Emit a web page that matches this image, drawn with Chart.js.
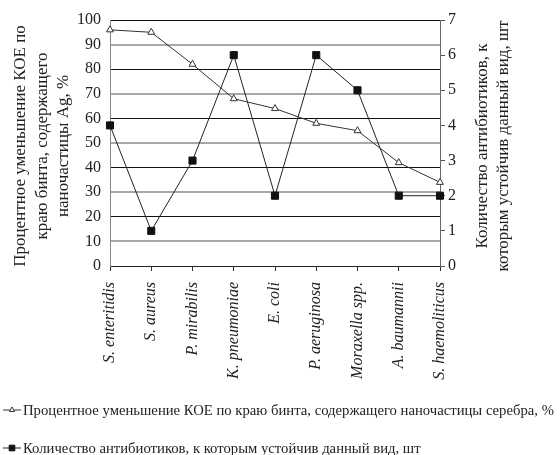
<!DOCTYPE html>
<html>
<head>
<meta charset="utf-8">
<script src="https://cdn.jsdelivr.net/npm/chart.js@4/dist/chart.umd.min.js"></script>
<style>
  body { margin: 0; background: #fff; }
  #wrap { width: 560px; height: 455px; }
</style>
</head>
<body>
<div id="wrap"><canvas id="chart"></canvas></div>
<script>
const species = ['S. enteritidis', 'S. aureus', 'P. mirabilis', 'K. pneumoniae', 'E. coli',
    'P. aeruginosa', 'Moraxella spp.', 'A. baumannii', 'S. haemoliticus'];
const cfuDrop = [96, 95, 82, 68, 64, 58, 55, 42, 34];
const resistCount = [4, 1, 3, 6, 2, 6, 5, 2, 2];
const leftTicks = [0, 10, 20, 30, 40, 50, 60, 70, 80, 90, 100];
const rightTicks = [0, 1, 2, 3, 4, 5, 6, 7];

const cfuLabel = 'Процентное уменьшение КОЕ по краю бинта, содержащего наночастицы серебра, %';
const countLabel = 'Количество антибиотиков, к которым устойчив данный вид, шт';
const leftTitle = ['Процентное уменьшение КОЕ по', 'краю бинта, содержащего', 'наночастицы Ag, %'];
const rightTitle = ['Количество антибиотиков, к', 'которым устойчив данный вид, шт'];

const FONT = '"Liberation Serif", "Times New Roman", serif';

// axis titles read bottom-to-top on both sides, so draw them by hand
const titlesPlugin = {
    id: 'titles',
    afterDraw(chart) {
        const ctx = chart.ctx;
        const midY = 146;
        ctx.save();
        ctx.fillStyle = '#222';
        ctx.font = '17px ' + FONT;
        ctx.textAlign = 'center';
        ctx.textBaseline = 'middle';
        const draw = (lines, xs) => {
            lines.forEach((t, i) => {
                ctx.save();
                ctx.translate(xs[i], midY);
                ctx.rotate(-Math.PI / 2);
                ctx.fillText(t, 0, 0);
                ctx.restore();
            });
        };
        draw(leftTitle, [21, 43, 64]);
        draw(rightTitle, [483, 504]);
        ctx.restore();
    }
};

// legend rows with a line + marker, left aligned
const legendPlugin = {
    id: 'rowLegend',
    afterDraw(chart) {
        const ctx = chart.ctx;
        const rows = [410, 448];
        ctx.save();
        ctx.font = '14.7px ' + FONT;
        ctx.textBaseline = 'middle';
        chart.data.datasets.forEach((ds, i) => {
            const y = rows[i];
            ctx.strokeStyle = ds.borderColor;
            ctx.lineWidth = 1;
            ctx.beginPath();
            ctx.moveTo(3, y);
            ctx.lineTo(21, y);
            ctx.stroke();
            ctx.fillStyle = ds.pointBackgroundColor;
            ctx.strokeStyle = ds.pointBorderColor;
            Chart.helpers.drawPoint(ctx, {pointStyle: ds.pointStyle, radius: ds.pointRadius - 1, borderWidth: 1}, 12, y);
            ctx.fillStyle = '#222';
            ctx.fillText(ds.label, 23, y + 1);
        });
        ctx.restore();
    }
};

new Chart(document.getElementById('chart'), {
    type: 'line',
    data: {
        labels: species,
        datasets: [{
            label: cfuLabel,
            data: cfuDrop,
            yAxisID: 'y',
            borderColor: '#333',
            borderWidth: 1,
            pointStyle: 'triangle',
            pointRadius: 4,
            pointBackgroundColor: '#fff',
            pointBorderColor: '#333',
            pointBorderWidth: 1,
            tension: 0
        }, {
            label: countLabel,
            data: resistCount,
            yAxisID: 'y1',
            borderColor: '#222',
            borderWidth: 1,
            pointStyle: 'rect',
            pointRadius: 5,
            pointBackgroundColor: '#111',
            pointBorderColor: '#111',
            pointBorderWidth: 1,
            tension: 0
        }]
    },
    options: {
        responsive: true,
        maintainAspectRatio: false,
        animation: false,
        layout: { padding: { top: 20, bottom: 69, left: 0, right: 0 } },
        plugins: {
            legend: { display: false },
            tooltip: { enabled: false }
        },
        scales: {
            x: {
                offset: false,
                afterFit: s => { s.height = 120; },
                grid: { drawOnChartArea: false, tickLength: 5, color: '#333' },
                border: { color: '#222' },
                ticks: {
                    maxRotation: 90, minRotation: 90, padding: 11,
                    color: '#222',
                    font: { family: FONT, size: 16, style: 'italic' }
                }
            },
            y: {
                position: 'left',
                min: 0, max: 100,
                afterFit: s => { s.width = 110; },
                afterBuildTicks: s => { s.ticks = leftTicks.map(v => ({ value: v })); },
                grid: {
                    drawTicks: false,
                    color: c => (c.tick && c.tick.value % 20 === 0) ? '#111' : '#a8a8a8',
                    lineWidth: c => (c.tick && c.tick.value % 20 === 0) ? 1 : 2
                },
                border: { color: '#888' },
                ticks: { padding: 9, color: '#222', font: { family: FONT, size: 16 } }
            },
            y1: {
                position: 'right',
                min: 0, max: 7,
                afterFit: s => { s.width = 120; },
                afterBuildTicks: s => { s.ticks = rightTicks.map(v => ({ value: v })); },
                grid: { drawOnChartArea: false, tickLength: 5, color: '#555' },
                border: { color: '#666' },
                ticks: { padding: 3, color: '#222', font: { family: FONT, size: 16 } }
            }
        }
    },
    plugins: [titlesPlugin, legendPlugin]
});
</script>
</body>
</html>
